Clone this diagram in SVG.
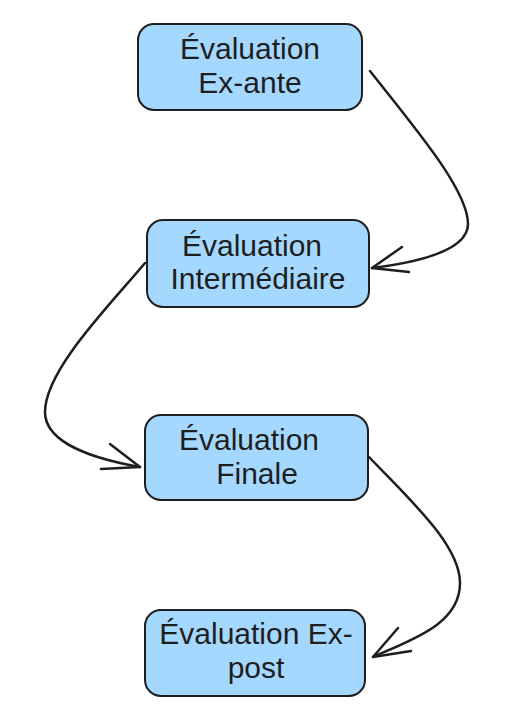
<svg xmlns="http://www.w3.org/2000/svg" width="518" height="714" viewBox="0 0 518 714">
<style>
.box{fill:#a5d8ff;stroke:#1e1e1e;stroke-width:2;}
.lbl{font-family:"Liberation Sans","DejaVu Sans",sans-serif;font-size:30px;fill:#1e1e1e;text-anchor:middle;}
.edge{fill:none;stroke:#1e1e1e;stroke-width:2.5;stroke-linecap:round;stroke-linejoin:round;}
</style>
<rect width="518" height="714" fill="#ffffff"/>
<g id="node1">
<rect class="box" x="138" y="24" width="224" height="86" rx="16"/>
<text class="lbl" x="250" y="59">Évaluation</text>
<text class="lbl" x="250" y="93">Ex-ante</text>
</g>
<g id="node2">
<rect class="box" x="147" y="220" width="222" height="87" rx="16"/>
<text class="lbl" x="252" y="256">Évaluation</text>
<text class="lbl" x="258" y="289">Intermédiaire</text>
</g>
<g id="node3">
<rect class="box" x="145" y="415" width="223" height="85" rx="16"/>
<text class="lbl" x="249" y="450">Évaluation</text>
<text class="lbl" x="257" y="484">Finale</text>
</g>
<g id="node4">
<rect class="box" x="145" y="610" width="220" height="86" rx="16"/>
<text class="lbl" x="256" y="644">Évaluation Ex-</text>
<text class="lbl" x="256" y="678">post</text>
</g>
<g id="connectors">
<path class="edge" d="M370,71 C415,128 468,190 468,224 C468,250 420,262 372,268"/>
<path class="edge" d="M372,268 L402,247 M372,268 L409,272"/>
<path class="edge" d="M145,263 C110,305 45,370 45,412 C45,445 100,460 140,467"/>
<path class="edge" d="M140,467 L110,444 M140,467 L101,469"/>
<path class="edge" d="M369,457 C410,500 460,545 460,583 C460,625 410,640 373,657"/>
<path class="edge" d="M373,657 L398,628 M373,657 L411,651"/>
</g>
</svg>
